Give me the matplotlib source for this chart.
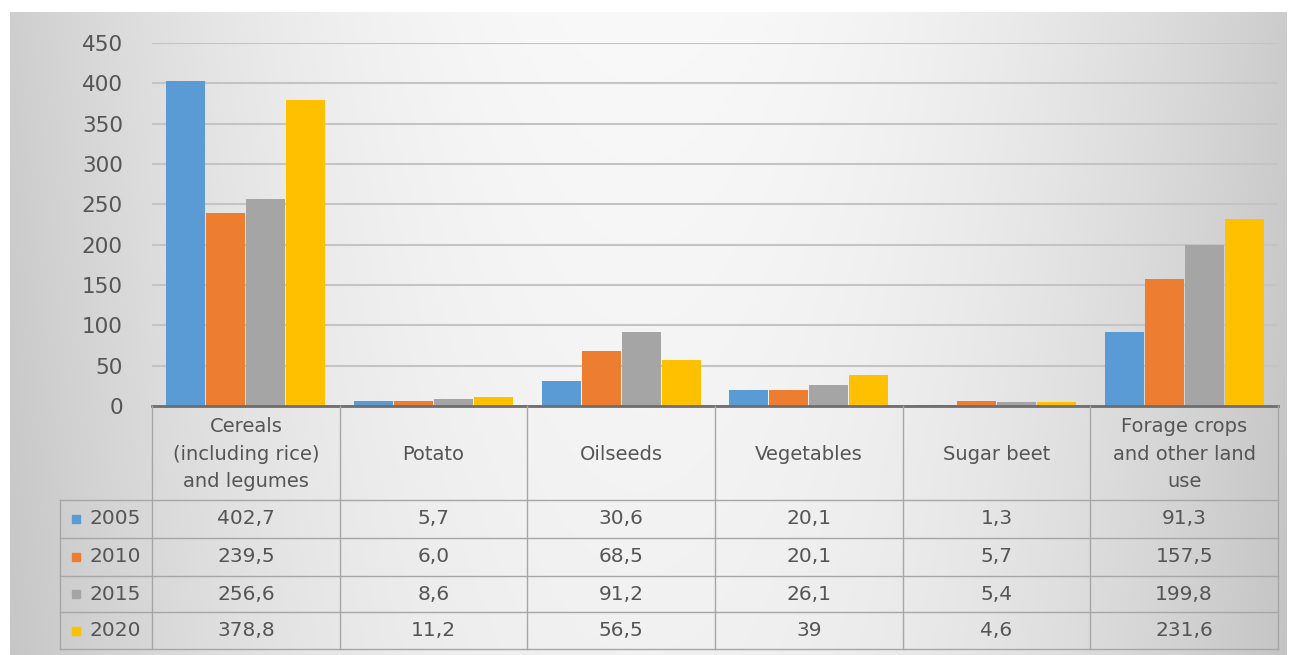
import numpy as np
import matplotlib
matplotlib.use("Agg")
import matplotlib.pyplot as plt
from matplotlib.patches import Rectangle

categories = ["Cereals\n(including rice)\nand legumes", "Potato", "Oilseeds",
              "Vegetables", "Sugar beet", "Forage crops\nand other land\nuse"]
years = ["2005", "2010", "2015", "2020"]
v2005 = [402.7, 5.7, 30.6, 20.1, 1.3, 91.3]
v2010 = [239.5, 6.0, 68.5, 20.1, 5.7, 157.5]
v2015 = [256.6, 8.6, 91.2, 26.1, 5.4, 199.8]
v2020 = [378.8, 11.2, 56.5, 39, 4.6, 231.6]
series = [v2005, v2010, v2015, v2020]
colors = ["#5B9BD5", "#ED7D31", "#A5A5A5", "#FFC000"]
yticks = [0, 50, 100, 150, 200, 250, 300, 350, 400, 450]

W, H = 1295, 655
txt = "#555555"
plt.rcParams['font.family'] = ['DejaVu Sans']

fig = plt.figure(figsize=(W / 100, H / 100), dpi=100)
fig.patch.set_facecolor("white")

# gradient background frame
bg = fig.add_axes([0, 0, 1, 1])
xx, yy = np.meshgrid(np.arange(W), np.arange(H))
g = 249 - 44 * ((xx - 640) / 640.0) ** 2 - 8 * (yy / H)
g = np.clip(g, 0, 255) / 255.0
img = np.dstack([g, g, g, np.ones_like(g)])
img[:12, :, :3] = 1.0
img[:, :10, :3] = 1.0
img[:, 1287:, :3] = 1.0
bg.imshow(img, extent=(0, W, H, 0), aspect="auto", interpolation="bilinear")
bg.set_xlim(0, W)
bg.set_ylim(H, 0)
bg.axis("off")

# bar chart
x0, x1 = 152, 1278
ax = fig.add_axes([x0 / W, (H - 406) / H, (x1 - x0) / W, (406 - 43) / H])
ax.patch.set_alpha(0)
n = len(categories)
x = np.arange(n)
bw = 0.213
for i, (vals, c) in enumerate(zip(series, colors)):
    ax.bar(x + (i - 1.5) * bw, vals, bw * 0.97, color=c, zorder=3)
ax.set_xlim(-0.5, n - 0.5)
ax.set_ylim(0, 450)
ax.set_yticks(yticks)
ax.set_yticklabels([str(t) for t in yticks], fontsize=15.5, color="#555555")
ax.tick_params(axis="y", length=0, pad=21)
ax.set_xticks([])
ax.grid(axis="y", color="#c4c4c4", linewidth=1.5, zorder=0)
for s in ["top", "right", "left"]:
    ax.spines[s].set_visible(False)
ax.spines["bottom"].set_color("#6e6e6e")
ax.spines["bottom"].set_linewidth(2)
ax.spines["bottom"].set_zorder(4)

# data table
tb = fig.add_axes([x0 / W, (H - 649) / H, (x1 - x0) / W, (649 - 406) / H])
tb.patch.set_alpha(0)
tb.set_xlim(-0.5, n - 0.5)
tb.set_ylim(649, 406)
tb.axis("off")
lc = "#a6a6a6"
lab_left = -0.5 - 92 / 187.7
rows = [500, 538, 576, 612, 649]
for k in range(n + 1):
    tb.plot([k - 0.5, k - 0.5], [406, 649], color=lc, lw=1, clip_on=False)
tb.plot([lab_left, lab_left], [500, 649], color=lc, lw=1, clip_on=False)
for r in rows:
    tb.plot([lab_left, n - 0.5], [r, r], color=lc, lw=1, clip_on=False)
for k, cat in enumerate(categories):
    tb.text(k, 454, cat, ha="center", va="center", fontsize=14, color=txt,
            linespacing=1.55)
for i, (vals, yr, c) in enumerate(zip(series, years, colors)):
    yc = (rows[i] + rows[i + 1]) / 2
    for k, v in enumerate(vals):
        tb.text(k, yc, str(v).replace(".", ","), ha="center", va="center",
                fontsize=14.5, color=txt)
    tb.add_patch(Rectangle((lab_left + 12 / 187.7, yc - 4), 8 / 187.7, 8,
                           color=c, clip_on=False))
    tb.text(lab_left + 29 / 187.7, yc, yr, ha="left", va="center",
            fontsize=14.5, color=txt, clip_on=False)

fig.savefig("out.png", dpi=100)
